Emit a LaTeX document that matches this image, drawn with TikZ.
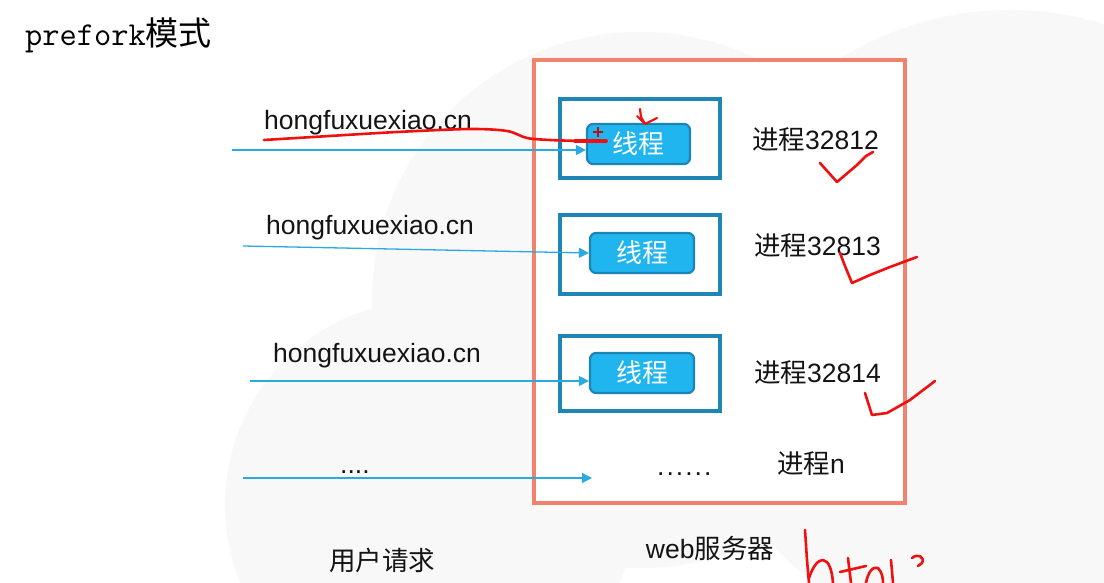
\documentclass[tikz,border=0pt]{standalone}
\usepackage{fontspec}
\setmainfont{Liberation Sans}
\newfontfamily\cjk{Noto Sans CJK SC}
\usetikzlibrary{arrows.meta}
\definecolor{salmonc}{HTML}{F0826E}
\definecolor{procblue}{HTML}{1F86B4}
\definecolor{thrfill}{HTML}{21B5F0}
\definecolor{thrline}{HTML}{1C85B5}
\definecolor{arrowc}{HTML}{2BA9E1}
\definecolor{bgc}{HTML}{F8F8F8}
\definecolor{inkred}{HTML}{F01010}
\tikzset{
  txt/.style={font=\fontsize{26.5}{30}\selectfont, text=black!92, inner sep=0pt},
  procbox/.style={draw=procblue, line width=3.2pt, minimum width=160pt, inner sep=0pt},
  thrbox/.style={draw=thrline, fill=thrfill, line width=2.2pt, rounded corners=6pt,
     minimum width=103pt, minimum height=40pt, inner sep=0pt, text=white,
     font=\fontsize{26}{28}\selectfont\cjk},
  req/.style={draw=arrowc, line width=1.3pt, -{Triangle[length=10pt,width=10pt]}},
  ink/.style={draw=inkred, line width=2.6pt, line cap=round, line join=round}
}
\begin{document}
\begin{tikzpicture}[x=1pt,y=-1pt]
\useasboundingbox (0,0) rectangle (1104,583);
\fill[white] (0,0) rectangle (1104,583);
% faint background circles
\begin{scope}
\clip (0,0) rectangle (1104,583);
\fill[bgc] (1010,330) circle (320);
\fill[bgc] (640,300) circle (268);
\fill[bgc] (430,505) circle (205);
\end{scope}
% title
\node[anchor=west, inner sep=0pt] (title) at (25,35)
  {\fontsize{33.5}{35}\selectfont\ttfamily prefork\fontsize{33}{35}\selectfont\cjk 模式};
% server box
\node[draw=salmonc, fill=white, line width=3.2pt, minimum width=371pt, minimum height=443pt, inner sep=0pt] (srv) at (719.5,281.5) {};
% process boxes
\node[procbox, minimum height=79pt] (p1) at (640,138.5) {};
\node[procbox, minimum height=79pt] (p2) at (640,254.5) {};
\node[procbox, minimum height=75pt] (p3) at (640,373.5) {};
% threads
\node[thrbox] (t1) at (638.5,144) {线程};
\node[thrbox, minimum width=104pt] (t2) at (642,253) {线程};
\node[thrbox, minimum width=104pt] (t3) at (642,373) {线程};
% process labels
\node[txt, anchor=west] (l1) at (752,140) {{\cjk 进程}32812};
\node[txt, anchor=west] (l2) at (754,246) {{\cjk 进程}32813};
\node[txt, anchor=west] (l3) at (754,373) {{\cjk 进程}32814};
\node[txt, anchor=west] (ln) at (777,464) {{\cjk 进程}n};
\node[txt, anchor=base west] (dots) at (657,475) {.\kern2pt.\kern2pt.\kern2pt.\kern2pt.\kern2pt.};
% request labels
\node[txt, anchor=west] (h1) at (264,123) {hongfuxuexiao.cn};
\node[txt, anchor=west] (h2) at (266,228) {hongfuxuexiao.cn};
\node[txt, anchor=west] (h3) at (273,356) {hongfuxuexiao.cn};
\node[txt, anchor=base west] (h4) at (340,473) {....};
% request arrows
\coordinate (s1) at (232,150);
\coordinate (s2) at (243,246);
\coordinate (s3) at (250,381);
\coordinate (s4) at (243,478);
\coordinate (e4) at (592,478);
\draw[req] (s1) -- (s1 -| t1.west);
\draw[req] (s2) -- (t2.west);
\draw[req] (s3) -- (s3 -| t3.west);
\draw[req] (s4) -- (e4);
% bottom labels
\node[txt, font=\fontsize{26.5}{30}\selectfont\cjk] (users) at (382,560) {用户请求};
\node[txt] (web) at (710,548) {web{\cjk 服务器}};
% red annotations
\draw[ink] plot[smooth, tension=0.5] coordinates {(264,140) (313,137) (397,132) (470,129) (507,131) (527,138) (550,140) (580,141)};
\draw[inkred, line width=4pt, line cap=round] (575,141) -- (606,141);
\draw[inkred!80!black, line width=1.3pt] (593,132) -- (603,132) (598,127) -- (598,137);
\draw[ink, line width=2.2pt] (640,109) -- (641,117) -- (645,124) -- (651,121) -- (657,118);
\draw[ink, line width=2pt] (637,116) -- (645,124);
\draw[ink] (820,163) -- (837,182) -- (857,165) -- (866,156) -- (873,152);
\draw[ink] (840,253) -- (845,266) -- (852,283) -- (870,275) -- (890,267) -- (917,257);
\draw[ink] (865,393) -- (872,415) -- (887,413) -- (910,400) -- (935,381);
% scribble at bottom
\draw[ink] (805,530) -- (807,560) -- (809,583);
\draw[ink] (809,578) .. controls (813,566) and (818,560) .. (823,560) .. controls (829,561) and (832,570) .. (833,583);
\draw[ink] (848,558) -- (851,583);
\draw[ink] (840,572) -- (866,566);
\draw[ink] (866,583) .. controls (868,572) and (873,566) .. (878,568) .. controls (882,572) and (883,578) .. (883,583);
\draw[ink] (891,560) -- (893,583);
\draw[ink] (912,558) .. controls (918,553) and (925,557) .. (922,563) -- (918,566);
\end{tikzpicture}
\end{document}
